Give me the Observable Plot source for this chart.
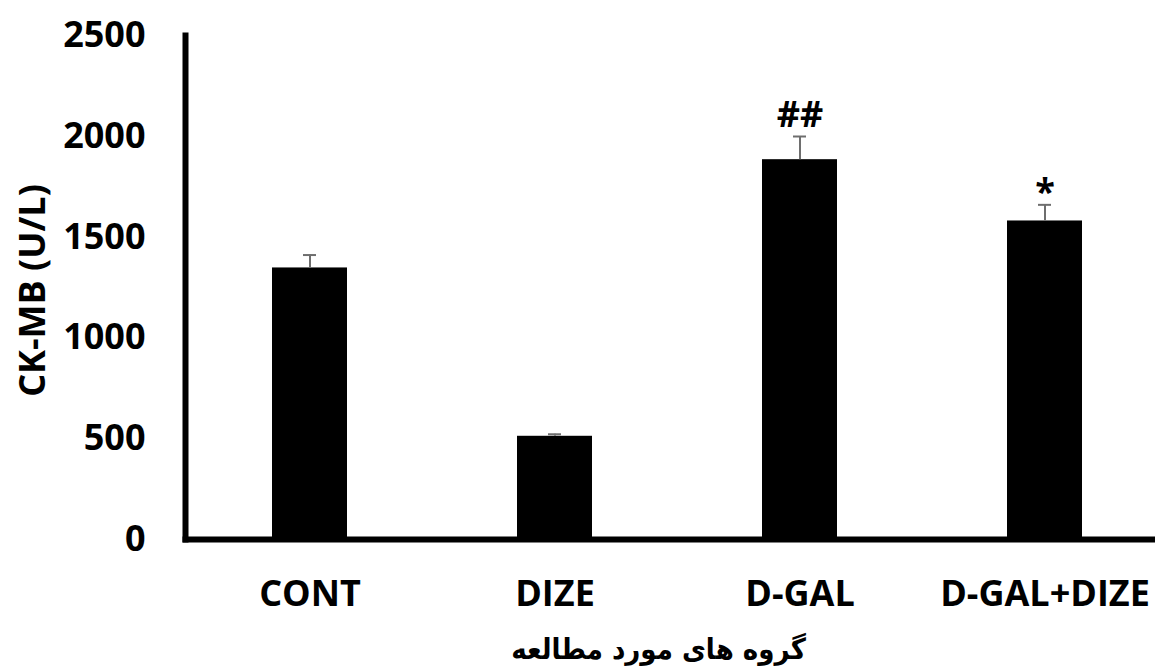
<!DOCTYPE html>
<html>
<head>
<meta charset="utf-8">
<script src="https://cdn.jsdelivr.net/npm/d3@7"></script>
<script src="https://cdn.jsdelivr.net/npm/@observablehq/plot@0.6"></script>
<style>
  html, body { margin: 0; padding: 0; background: #fff; }
  #chart svg { display: block; }
</style>
</head>
<body>
<div id="chart"></div>
<script>
// Serum CK-MB activity per study group (mean and upper SE)
const groups = ["CONT", "DIZE", "D-GAL", "D-GAL+DIZE"];
const means = [1347, 512, 1884, 1580];
const errors = [64, 10, 115, 80];
const significance = ["", "", "##", "*"];
const yTicks = [0, 500, 1000, 1500, 2000, 2500];
const yTitle = "CK-MB (U/L)";
const xTitle = "گروه های مورد مطالعه";

const rows = groups.map((g, i) => ({
  group: g,
  mean: means[i],
  top: means[i] + errors[i],
  sig: significance[i]
}));

const errColor = "#6e6e6e";

const chart = Plot.plot({
  width: 1155,
  height: 669,
  marginTop: 35,
  marginBottom: 130,
  marginLeft: 185,
  marginRight: 0,
  style: {
    fontFamily: "'Open Sans', 'Liberation Sans', sans-serif",
    fontWeight: 700,
    fontSize: "36px",
    color: "#000",
    background: "#fff",
    overflow: "visible"
  },
  x: {type: "band", domain: groups, range: [185, 1168], paddingInner: 0.695, paddingOuter: 0.346},
  y: {domain: [0, 2500]},
  marks: [
    Plot.barY(rows, {x: "group", y: "mean", fill: "#000"}),
    Plot.ruleX(rows, {x: "group", y1: "mean", y2: "top", stroke: errColor, strokeWidth: 2}),
    Plot.tickY(rows, {x: "group", y: "top", stroke: errColor, strokeWidth: 2, insetLeft: 31, insetRight: 31}),
    Plot.text(rows.filter(d => d.sig === "##"), {
      x: "group", y: "top", text: "sig", lineAnchor: "bottom", dy: -10, fontSize: 36
    }),
    Plot.text(rows.filter(d => d.sig === "*"), {
      x: "group", y: "top", text: "sig", lineAnchor: "bottom", dy: -1, fontSize: 36
    }),
    Plot.frame({anchor: "left", stroke: "#000", strokeWidth: 6}),
    Plot.frame({anchor: "bottom", stroke: "#000", strokeWidth: 6}),
    Plot.axisY({ticks: yTicks, tickFormat: d => String(d), tickSize: 0, tickPadding: 40, label: null, fontSize: 36}),
    Plot.axisX({tickSize: 0, tickPadding: 41, label: null, fontSize: 36}),
    Plot.text([yTitle], {
      text: d => d, frameAnchor: "left", textAnchor: "middle", lineAnchor: "middle",
      rotate: -90, dx: -152, dy: 3, fontSize: 36
    }),
    Plot.text([xTitle], {
      text: d => d, frameAnchor: "bottom", textAnchor: "middle", lineAnchor: "middle",
      dx: -12, dy: 110, fontSize: 29,
      fontFamily: "'DejaVu Sans Condensed', 'DejaVu Sans', sans-serif"
    })
  ]
});

document.getElementById("chart").appendChild(chart);
</script>
</body>
</html>
